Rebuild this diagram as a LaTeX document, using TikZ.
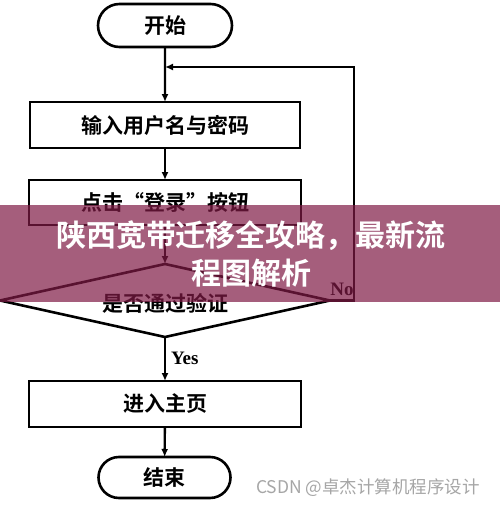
\documentclass[tikz,border=0pt]{standalone}
\usepackage{fontspec}
\usetikzlibrary{shapes.geometric,shapes.misc,arrows.meta}
\newfontfamily\cjk{Noto Sans CJK SC}
\newfontfamily\cjkbold{Noto Sans CJK SC Bold}
\newfontfamily\latinserif{Liberation Serif}
\definecolor{bannercol}{RGB}{127,26,69}
\begin{document}
\begin{tikzpicture}[x=1pt,y=-1pt,
  line width=2.6pt,
  every node/.style={inner sep=0pt, outer sep=0pt},
  term/.style={draw, rounded rectangle, minimum width=134pt, minimum height=43pt, font=\cjkbold\fontsize{21}{24}\selectfont},
  proc/.style={draw, rectangle, minimum width=272pt, minimum height=46pt, font=\cjkbold\fontsize{21}{24}\selectfont},
  decis/.style={draw, diamond, minimum width=330pt, minimum height=73pt, font=\cjkbold\fontsize{21}{24}\selectfont},
  flowarrow/.style={-{Latex[length=8pt,width=7pt]}, line width=2.4pt},
  edgelabel/.style={font=\latinserif\bfseries\fontsize{19}{22}\selectfont},
]
\useasboundingbox (0,0) rectangle (500,506);
\fill[white] (0,0) rectangle (500,506);

\node[term] (start) at (165,25.5) {开始};
\node[proc, minimum width=270pt] (input) at (165,125) {输入用户名与密码};
\node[proc, minimum height=45pt] (click) at (165,202.5) {点击“登录”按钮};
\node[decis] (check) at (165,300.5) {};
\node[font=\cjkbold\fontsize{21}{24}\selectfont] (checktxt) at (165,303) {是否通过验证};
\node[proc] (home) at (165,404) {进入主页};
\node[term, minimum width=132pt, minimum height=41pt] (end) at (164.5,477.5) {结束};

\coordinate (join) at (165,67);
\coordinate (loopc) at (354,67);

\draw[flowarrow] (start) -- (input);
\draw[flowarrow] (input) -- (click);
\draw[flowarrow] (click) -- (check);
\draw[flowarrow] (check) -- node[edgelabel, anchor=west, xshift=6pt, yshift=1pt] (yes) {Yes} (home);
\draw[flowarrow] (home) -- (end);
\draw[flowarrow] (check.east) -| (loopc) -- (join);
\node[edgelabel, anchor=center] (no) at (342,289) {No};

% banner overlay
\fill[bannercol, opacity=0.7] (0,205) rectangle (500,302);
\node[text=white, align=center, font=\cjkbold\fontsize{30}{38}\selectfont] (title) at (251,254) {陕西宽带迁移全攻略，最新流\\程图解析};

% watermark
\node[text=black!35, font=\cjk\fontsize{17.5}{20}\selectfont] (wm) at (368,488) {CSDN @卓杰计算机程序设计};
\end{tikzpicture}
\end{document}
